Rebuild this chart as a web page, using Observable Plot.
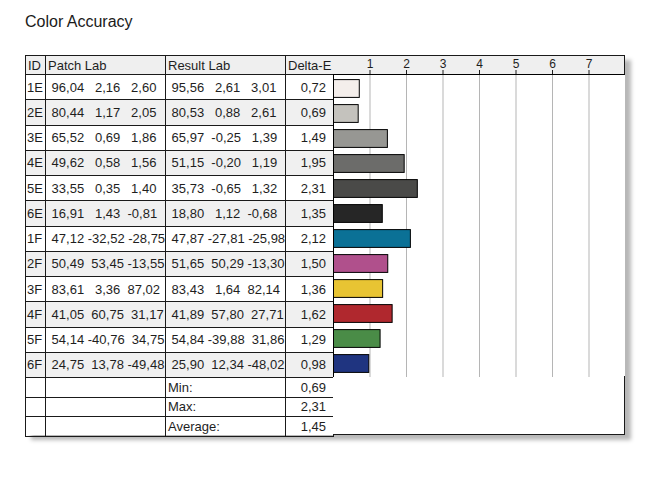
<!DOCTYPE html>
<html>
<head>
<meta charset="utf-8">
<script src="https://cdn.jsdelivr.net/npm/d3@7"></script>
<script src="https://cdn.jsdelivr.net/npm/@observablehq/plot@0.6"></script>
<style>
  html, body { margin: 0; padding: 0; background: #fff; }
  body { width: 658px; height: 478px; position: relative; overflow: hidden;
         font-family: "Liberation Sans", Arial, sans-serif; color: #1e1e1e; }
  #title { position: absolute; left: 25px; top: 12px; font-size: 16px; line-height: 19px; color: #1a1a1a; }
  #wrap { position: absolute; left: 25px; top: 55px; width: 600px; height: 380px; background: #fff;
          box-shadow: 6px 5px 4px #b8b8b8; }
  table { position: absolute; left: 0; top: 0; border-collapse: collapse; table-layout: fixed;
          font-size: 13px; width: 308px; }
  td { border: 1px solid #1a1a1a; padding: 0 0 0 2px; white-space: pre; overflow: hidden; vertical-align: middle; line-height: 15px; }
  tr.head td { background: #efefef; }
  tr.head { height: 19px; }
  tr.data { height: 25.25px; }
  tr.data.alt td { background: #f0f0f0; }
  tr.sum { height: 19.5px; }
  td.num { text-align: right; padding: 0 7px 0 0; }
  #chart { position: absolute; left: 308px; top: 0; width: 292px; height: 322px; }
  #chartHead { position: absolute; left: 0; top: 0; width: 291px; height: 18px; background: #efefef;
               border-top: 1px solid #1a1a1a; border-right: 1px solid #1a1a1a; }
  #chart svg { position: absolute; left: 0; top: 0; background: transparent; }
  #chartFoot { position: absolute; left: 308px; top: 321px; width: 291px; height: 58px;
               border-right: 1px solid #1a1a1a; border-bottom: 1px solid #1a1a1a; background: #fff; }
</style>
</head>
<body>
<div id="title">Color Accuracy</div>
<div id="wrap">
  <table id="tbl"></table>
  <div id="chartFoot"></div>
  <div id="chart"><div id="chartHead"></div></div>
</div>
<script>
const ids = ["1E","2E","3E","4E","5E","6E","1F","2F","3F","4F","5F","6F"];
const patchL = [96.04,80.44,65.52,49.62,33.55,16.91,47.12,50.49,83.61,41.05,54.14,24.75];
const patchA = [2.16,1.17,0.69,0.58,0.35,1.43,-32.52,53.45,3.36,60.75,-40.76,13.78];
const patchB = [2.60,2.05,1.86,1.56,1.40,-0.81,-28.75,-13.55,87.02,31.17,34.75,-49.48];
const resultL = [95.56,80.53,65.97,51.15,35.73,18.80,47.87,51.65,83.43,41.89,54.84,25.90];
const resultA = [2.61,0.88,-0.25,-0.20,-0.65,1.12,-27.81,50.29,1.64,57.80,-39.88,12.34];
const resultB = [3.01,2.61,1.39,1.19,1.32,-0.68,-25.98,-13.30,82.14,27.71,31.86,-48.02];
const deltaE = [0.72,0.69,1.49,1.95,2.31,1.35,2.12,1.50,1.36,1.62,1.29,0.98];
const barColors = ["#f4eeeb","#c4c2bd","#979793","#6c6c6a","#4a4a48","#262626",
                   "#0b7196","#b0508c","#e8c433","#b0282e","#4a8c47","#1f3480"];
const headers = ["ID","Patch Lab","Result Lab","Delta-E"];
const summaryLabels = ["Min:","Max:","Average:"];
const summaryValues = [0.69,2.31,1.45];
const xTicks = [1,2,3,4,5,6,7];
const xMax = 8;

const fmt = v => v.toFixed(2).replace(".", ",");
const lab = (l,a,b) => [l,a,b].map(v => fmt(v).padStart(6," ")).join(" ");

// table
const tbl = d3.select("#tbl");
const cg = tbl.append("colgroup");
[20,120,120,48].forEach(w => cg.append("col").style("width", w + "px"));
const hr = tbl.append("tr").attr("class","head");
headers.forEach(h => hr.append("td").text(h));
ids.forEach((id,i) => {
  const tr = tbl.append("tr").attr("class", "data" + (i % 2 ? " alt" : ""));
  tr.append("td").style("padding-left","1px").text(id);
  tr.append("td").text(lab(patchL[i],patchA[i],patchB[i]));
  tr.append("td").text(lab(resultL[i],resultA[i],resultB[i]));
  tr.append("td").attr("class","num").text(fmt(deltaE[i]));
});
summaryLabels.forEach((s,i) => {
  const tr = tbl.append("tr").attr("class","sum");
  tr.append("td"); tr.append("td");
  tr.append("td").text(s);
  tr.append("td").attr("class","num").text(fmt(summaryValues[i]));
});

// chart
const rows = ids.map((id,i) => ({id, de: deltaE[i], color: barColors[i]}));
const chart = Plot.plot({
  width: 292, height: 322,
  marginTop: 19, marginBottom: 0, marginLeft: 0, marginRight: 0,
  style: {background: "transparent", fontFamily: "Liberation Sans, Arial, sans-serif", fontSize: "12px", color: "#1e1e1e"},
  x: {domain: [0, xMax], axis: "top", ticks: xTicks, tickSize: 5, tickPadding: 2, label: null, tickFormat: d => String(d)},
  y: {domain: ids, axis: null, padding: 0},
  marks: [
    Plot.gridX(xTicks, {stroke: "#b5b5b5", strokeOpacity: 1}),
    Plot.barX(rows, {x: "de", y: "id", fill: "color", stroke: "#000", strokeWidth: 1, insetTop: 3.6, insetBottom: 3.6}),
    Plot.frame({stroke: "#000", strokeWidth: 1})
  ]
});
document.getElementById("chart").appendChild(chart);
</script>
</body>
</html>
